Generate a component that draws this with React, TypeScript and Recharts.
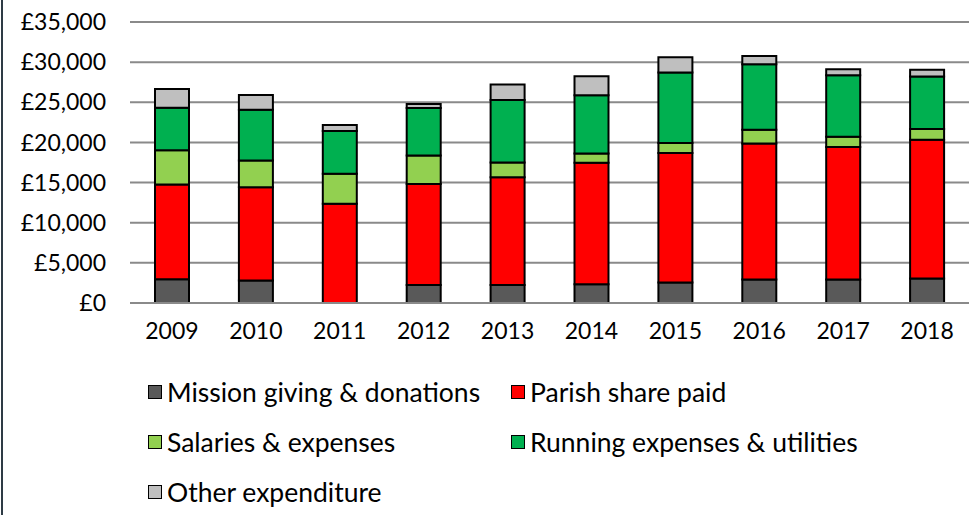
import React from "react"
import { BarChart, Bar, XAxis, YAxis, CartesianGrid } from "recharts"

const YEARS = ["2009", "2010", "2011", "2012", "2013", "2014", "2015", "2016", "2017", "2018"]

const MISSION = [2960, 2790, 0, 2250, 2250, 2330, 2540, 2920, 2920, 3040]
const PARISH = [11790, 11620, 12375, 12580, 13420, 15130, 16130, 16955, 16500, 17290]
const SALARIES = [4290, 3340, 3710, 3545, 1830, 1165, 1250, 1705, 1290, 1340]
const RUNNING = [5290, 6330, 5340, 5915, 7790, 7250, 8790, 8170, 7665, 6540]
const OTHER = [2330, 1840, 750, 500, 1920, 2375, 1915, 1000, 750, 830]

const Y_TICKS = [0, 5000, 10000, 15000, 20000, 25000, 30000, 35000]

const SERIES = [
  { key: "mission", name: "Mission giving & donations", color: "#595959", values: MISSION },
  { key: "parish", name: "Parish share paid", color: "#ff0000", values: PARISH },
  { key: "salaries", name: "Salaries & expenses", color: "#92d050", values: SALARIES },
  { key: "running", name: "Running expenses & utilities", color: "#00b050", values: RUNNING },
  { key: "other", name: "Other expenditure", color: "#bfbfbf", values: OTHER },
]

const data = YEARS.map((year, i) => {
  const row: Record<string, string | number> = { year }
  SERIES.forEach((s) => {
    row[s.key] = s.values[i]
  })
  return row
})

const FONT = "Lato, 'Open Sans', sans-serif"

// legend laid out in two columns, like the spreadsheet original
function LegendBlock() {
  return (
    <div style={{ position: "absolute", left: 148, top: 375, fontFamily: FONT, fontSize: 26.5, color: "#000" }}>
      {SERIES.map((s, i) => (
        <div
          key={s.key}
          style={{
            position: "absolute",
            left: i % 2 === 0 ? 0 : 363,
            top: Math.floor(i / 2) * 50,
            display: "flex",
            alignItems: "center",
            whiteSpace: "nowrap",
            height: 34,
          }}
        >
          <span
            style={{
              display: "inline-block",
              width: 12,
              height: 12,
              background: s.color,
              border: "1.5px solid #000",
              marginRight: 5,
            }}
          />
          <span>{s.name}</span>
        </div>
      ))}
    </div>
  )
}

export default function App() {
  return (
    <div style={{ position: "fixed", left: 0, top: 0, width: 969, height: 515, background: "#fff", overflow: "hidden" }}>
      <div style={{ position: "absolute", left: 1, top: 0, width: 2, height: 515, background: "#2e3b45" }} />
      <BarChart
        width={969}
        height={350}
        data={data}
        margin={{ top: 22, right: 0, left: 0, bottom: 0 }}
        barSize={34}
      >
        <CartesianGrid vertical={false} stroke="#8a8a8a" strokeWidth={2} />
        <XAxis
          dataKey="year"
          height={47}
          tickLine={false}
          axisLine={{ stroke: "#8a8a8a", strokeWidth: 2 }}
          tickSize={0}
          tickMargin={20}
          tick={{ fontSize: 23, fill: "#000", fontFamily: FONT }}
        />
        <YAxis
          width={130}
          domain={[0, 35000]}
          ticks={Y_TICKS}
          interval={0}
          axisLine={false}
          tickLine={false}
          tickSize={0}
          tickMargin={24}
          tick={{ fontSize: 23, fill: "#000", fontFamily: FONT }}
          tickFormatter={(v: number) => `£${v.toLocaleString("en-GB")}`}
        />
        {SERIES.map((s) => (
          <Bar
            key={s.key}
            dataKey={s.key}
            name={s.name}
            stackId="a"
            fill={s.color}
            stroke="#000"
            strokeWidth={2}
            isAnimationActive={false}
          />
        ))}
      </BarChart>
      <LegendBlock />
    </div>
  )
}
